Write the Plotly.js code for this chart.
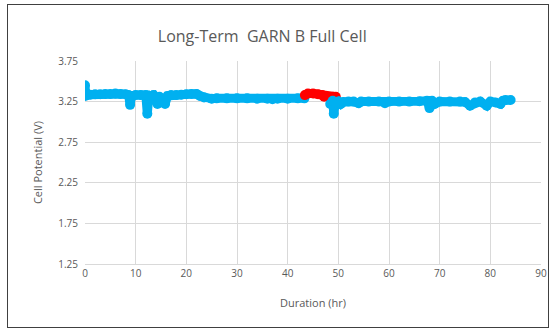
<!DOCTYPE html>
<html>
<head>
<meta charset="utf-8">
<script src="https://cdn.plot.ly/plotly-3.0.1.min.js"></script>
<style>
  html, body { margin: 0; padding: 0; background: #fff; }
  #wrap { position: relative; width: 558px; height: 331px; }
  #chart { width: 558px; height: 331px; }
  #frame { position: absolute; left: 7px; top: 4px; width: 542px; height: 324px;
           border: 1px solid #404040; pointer-events: none; box-sizing: border-box; }
</style>
</head>
<body>
<div id="wrap"><div id="chart"></div><div id="frame"></div></div>
<script>
// Blue series (before the red section)
const blue1Hours = [0, 0.02, 0.05, 0.3, 1, 2, 3, 4, 5, 6, 7, 8, 8.6, 8.9, 9.2, 10, 11, 12, 12.3, 12.6,
  13.5, 14.3, 14.7, 15.2, 15.8, 16.3, 17, 18, 19, 20, 21, 22, 22.7, 23.5, 25, 26, 28, 30, 32, 34,
  36, 37, 38, 40, 42, 43.3];
const blue1Volts = [3.45, 3.38, 3.32, 3.33, 3.335, 3.34, 3.34, 3.345, 3.345, 3.35, 3.345, 3.34, 3.33, 3.21, 3.32, 3.33, 3.33, 3.33, 3.10, 3.32,
  3.33, 3.22, 3.31, 3.25, 3.22, 3.32, 3.33, 3.33, 3.335, 3.34, 3.345, 3.345, 3.32, 3.30, 3.285, 3.29, 3.29, 3.29, 3.29, 3.285,
  3.285, 3.28, 3.285, 3.285, 3.29, 3.29];
// Red section
const redHours = [43.4, 44, 45, 46, 46.8, 47.2, 48, 49, 49.5];
const redVolts = [3.33, 3.35, 3.35, 3.34, 3.33, 3.31, 3.31, 3.31, 3.31];
// Blue series (after the red section)
const blue2Hours = [48.4, 48.9, 49.1, 49.4, 50, 50.5, 51, 52, 53, 54, 54.5, 56, 58, 59.2, 60, 62, 64, 66, 67.5, 68,
  68.5, 69, 70, 72, 74, 75, 76, 77, 78, 79.3, 80, 81, 82, 82.5, 83, 84];
const blue2Volts = [3.22, 3.26, 3.10, 3.23, 3.25, 3.22, 3.245, 3.25, 3.25, 3.23, 3.25, 3.25, 3.25, 3.23, 3.25, 3.25, 3.25, 3.255, 3.26, 3.17,
  3.26, 3.22, 3.25, 3.25, 3.25, 3.245, 3.20, 3.24, 3.25, 3.20, 3.25, 3.24, 3.22, 3.26, 3.27, 3.27];

const xTicks = [0, 10, 20, 30, 40, 50, 60, 70, 80, 90];
const yTicks = [1.25, 1.75, 2.25, 2.75, 3.25, 3.75];
const yTickLabels = ['1.25', '1.75', '2.25', '2.75', '3.25', '3.75'];

const BLUE = '#00B0F0', RED = '#FF0000';
const FONT = 'Open Sans, Noto Sans, sans-serif';

function series(x, y, color) {
  return { x: x, y: y, type: 'scatter', mode: 'lines+markers',
    line: { color: color, width: 9 }, marker: { color: color, size: 10 },
    hoverinfo: 'x+y', showlegend: false };
}

const data = [
  series(blue1Hours, blue1Volts, BLUE),
  series(redHours, redVolts, RED),
  series(blue2Hours, blue2Volts, BLUE)
];

const layout = {
  width: 558, height: 331,
  margin: { l: 85, r: 17, t: 61, b: 67 },
  paper_bgcolor: '#fff', plot_bgcolor: '#fff',
  font: { family: FONT, color: '#595959', size: 10 },
  title: { text: 'Long-Term  GARN B Full Cell', font: { family: FONT, size: 16, color: '#595959' },
           x: 0.47, xanchor: 'center', y: 0.89, yanchor: 'middle' },
  xaxis: {
    range: [0, 90], tickvals: xTicks, ticktext: xTicks.map(String),
    showgrid: true, gridcolor: '#d9d9d9', gridwidth: 1,
    showline: true, linecolor: '#d9d9d9', linewidth: 1, zeroline: false,
    ticks: '', ticklen: 0, tickfont: { size: 10, color: '#595959' },
    title: { text: 'Duration (hr)', font: { size: 11, color: '#595959' }, standoff: 20 },
    fixedrange: true
  },
  yaxis: {
    range: [1.25, 3.75], tickvals: yTicks, ticktext: yTickLabels,
    showgrid: true, gridcolor: '#d9d9d9', gridwidth: 1,
    showline: false, zeroline: false, ticks: '', ticklen: 0,
    tickfont: { size: 10, color: '#595959' }, ticklabelstandoff: 6,
    title: { text: 'Cell Potential (V)', font: { size: 11, color: '#595959' }, standoff: 13 },
    fixedrange: true
  }
};

Plotly.newPlot('chart', data, layout, { displayModeBar: false, staticPlot: true });
</script>
</body>
</html>
